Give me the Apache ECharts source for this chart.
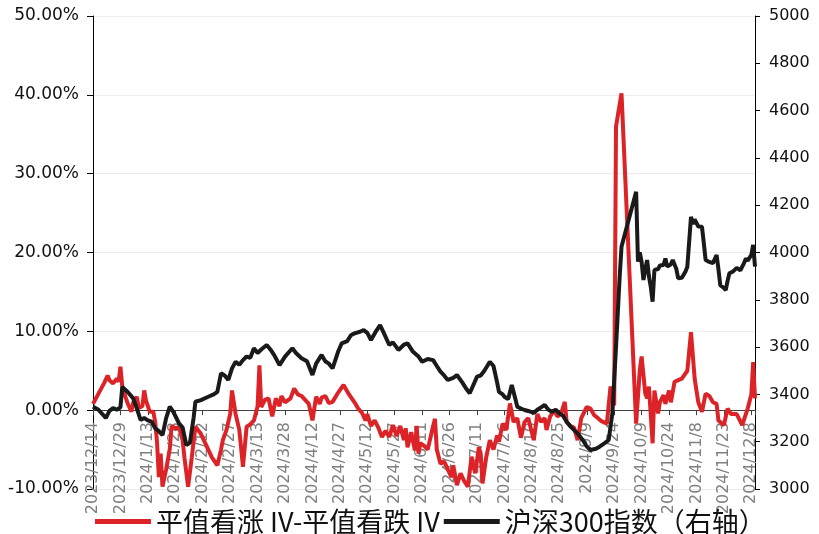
<!DOCTYPE html>
<html lang="zh">
<head>
  <meta charset="utf-8" />
  <title>平值IV差与沪深300</title>
  <script src="https://cdn.jsdelivr.net/npm/echarts@6/dist/echarts.min.js"></script>
  <style>html, body { margin: 0; padding: 0; background: #fff; }</style>
</head>
<body>
  <div id="main" style="width: 819px;height:534px;"></div>
  <script>
    // 平值看涨IV - 平值看跌IV (%)
    var ivDates = [
      '2023-12-14', '2023-12-17', '2023-12-20', '2023-12-22', '2023-12-23', '2023-12-25', '2023-12-27', '2023-12-28', '2023-12-29', '2023-12-30',
      '2024-01-01', '2024-01-02', '2024-01-04', '2024-01-05', '2024-01-07', '2024-01-08', '2024-01-10', '2024-01-11', '2024-01-12', '2024-01-14',
      '2024-01-16', '2024-01-17', '2024-01-18', '2024-01-19', '2024-01-20', '2024-01-21', '2024-01-22', '2024-01-23', '2024-01-25', '2024-01-26',
      '2024-01-28', '2024-01-30', '2024-02-01', '2024-02-02', '2024-02-04', '2024-02-05', '2024-02-06', '2024-02-08', '2024-02-11', '2024-02-14',
      '2024-02-17', '2024-02-20', '2024-02-22', '2024-02-23', '2024-02-25', '2024-02-27', '2024-02-28', '2024-03-01', '2024-03-03', '2024-03-05',
      '2024-03-07', '2024-03-09', '2024-03-11', '2024-03-13', '2024-03-14', '2024-03-15', '2024-03-17', '2024-03-19', '2024-03-21', '2024-03-23',
      '2024-03-25', '2024-03-26', '2024-03-28', '2024-03-31', '2024-04-02', '2024-04-04', '2024-04-06', '2024-04-08', '2024-04-10', '2024-04-12',
      '2024-04-14', '2024-04-16', '2024-04-17', '2024-04-19', '2024-04-21', '2024-04-23', '2024-04-26', '2024-04-29', '2024-05-02', '2024-05-05',
      '2024-05-07', '2024-05-09', '2024-05-11', '2024-05-12', '2024-05-14', '2024-05-16', '2024-05-18', '2024-05-20', '2024-05-22', '2024-05-24',
      '2024-05-26', '2024-05-28', '2024-05-30', '2024-06-01', '2024-06-02', '2024-06-03', '2024-06-05', '2024-06-07', '2024-06-08', '2024-06-09',
      '2024-06-10', '2024-06-12', '2024-06-14', '2024-06-17', '2024-06-18', '2024-06-19', '2024-06-21', '2024-06-23', '2024-06-25', '2024-06-27',
      '2024-06-28', '2024-06-30', '2024-07-02', '2024-07-04', '2024-07-06', '2024-07-08', '2024-07-10', '2024-07-12', '2024-07-13', '2024-07-14',
      '2024-07-16', '2024-07-18', '2024-07-20', '2024-07-22', '2024-07-23', '2024-07-25', '2024-07-27', '2024-07-29', '2024-07-31', '2024-08-02',
      '2024-08-04', '2024-08-06', '2024-08-08', '2024-08-11', '2024-08-13', '2024-08-15', '2024-08-17', '2024-08-18', '2024-08-20', '2024-08-22',
      '2024-08-24', '2024-08-26', '2024-08-28', '2024-08-29', '2024-08-31', '2024-09-02', '2024-09-04', '2024-09-06', '2024-09-09', '2024-09-11',
      '2024-09-13', '2024-09-15', '2024-09-17', '2024-09-20', '2024-09-22', '2024-09-24', '2024-09-25', '2024-09-28', '2024-10-06', '2024-10-08',
      '2024-10-09', '2024-10-11', '2024-10-12', '2024-10-13', '2024-10-15', '2024-10-16', '2024-10-18', '2024-10-19', '2024-10-21', '2024-10-22',
      '2024-10-24', '2024-10-25', '2024-10-27', '2024-10-29', '2024-10-31', '2024-11-01', '2024-11-03', '2024-11-05', '2024-11-07', '2024-11-09',
      '2024-11-11', '2024-11-13', '2024-11-15', '2024-11-17', '2024-11-19', '2024-11-20', '2024-11-23', '2024-11-25', '2024-11-27', '2024-11-28',
      '2024-11-30', '2024-12-03', '2024-12-05', '2024-12-06', '2024-12-08', '2024-12-09', '2024-12-10'
    ];
    var ivSpread = [
      0.8, 2.1, 3.4, 4.4, 3.8, 3.4, 4.0, 3.6, 5.5, 3.0,
      1.5, 0.85, -0.2, 1.0, 1.7, 0.3, 0.5, 2.5, 1.2, -0.2,
      -0.2, -1.5, -4.0, -8.5, -5.5, -9.7, -9.7, -7.5, -4.9, -2.0,
      -2.3, -2.2, -3.8, -6.0, -9.7, -9.7, -6.0, -2.1, -3.0, -4.5,
      -6.0, -7.0, -5.0, -3.8, -2.5, -0.5, 2.5, -0.5, -2.5, -7.2,
      -2.1, -1.8, -1.3, 0.5, 5.7, 0.4, 1.3, 1.5, -0.8, 1.5,
      0.5, 1.8, 1.0, 1.5, 2.75, 2.0, 1.8, 1.3, 0.8, -1.3,
      1.7, 0.8, 1.6, 1.8, 0.9, 1.05, 2.2, 3.2, 2.0, 1.0,
      0.2, -0.3, -1.3, -0.5, -2.0, -1.3, -2.2, -3.4, -2.6, -3.4,
      -1.9, -3.3, -2.0, -3.8, -2.3, -4.7, -2.8, -5.1, -2.0, -5.5,
      -4.2, -4.5, -5.0, -2.0, -1.1, -5.0, -6.8, -6.5, -7.5, -8.5,
      -7.0, -9.5, -8.0, -9.0, -9.7, -5.9, -8.0, -4.7, -5.5, -9.3,
      -6.0, -3.8, -5.0, -3.2, -4.0, -1.7, -2.5, 0.85, -1.5, -1.0,
      -3.5, -1.5, -1.0, -3.8, -0.5, -1.5, -1.0, -2.5, -0.8, 0.0,
      -0.8, -0.4, 1.05, -1.5, -2.0, -2.2, -3.8, -1.0, 0.4, 0.2,
      -0.6, -1.0, -1.4, -1.7, 3.0, 0.6, 36.0, 40.2, -1.7, 5.1,
      6.8, 2.1, 1.5, 3.0, -4.2, 2.5, -0.4, 1.0, 1.9, 0.8,
      2.5, 1.0, 3.6, 3.8, 4.0, 4.2, 5.0, 9.9, 4.0, 1.0,
      -0.2, 2.1, 1.8, 1.0, 0.8, -1.3, -1.9, 0.2, -0.5, -0.3,
      -0.5, -1.9, -0.5, 0.2, 2.0, 6.1, 1.5
    ];

    // 沪深300指数 (右轴)
    var hsDates = [
      '2023-12-14', '2023-12-17', '2023-12-19', '2023-12-21', '2023-12-23', '2023-12-25', '2023-12-27', '2023-12-29', '2023-12-30', '2024-01-02',
      '2024-01-05', '2024-01-07', '2024-01-09', '2024-01-11', '2024-01-13', '2024-01-15', '2024-01-17', '2024-01-19', '2024-01-21', '2024-01-23',
      '2024-01-25', '2024-01-27', '2024-01-30', '2024-02-01', '2024-02-03', '2024-02-05', '2024-02-07', '2024-02-08', '2024-02-11', '2024-02-15',
      '2024-02-18', '2024-02-20', '2024-02-22', '2024-02-24', '2024-02-26', '2024-02-28', '2024-03-01', '2024-03-03', '2024-03-05', '2024-03-07',
      '2024-03-09', '2024-03-11', '2024-03-13', '2024-03-15', '2024-03-18', '2024-03-20', '2024-03-22', '2024-03-25', '2024-03-28', '2024-04-01',
      '2024-04-03', '2024-04-06', '2024-04-09', '2024-04-12', '2024-04-14', '2024-04-17', '2024-04-19', '2024-04-21', '2024-04-23', '2024-04-26',
      '2024-04-28', '2024-05-01', '2024-05-03', '2024-05-05', '2024-05-08', '2024-05-10', '2024-05-12', '2024-05-14', '2024-05-17', '2024-05-19',
      '2024-05-21', '2024-05-24', '2024-05-26', '2024-05-29', '2024-06-01', '2024-06-03', '2024-06-06', '2024-06-09', '2024-06-11', '2024-06-14',
      '2024-06-17', '2024-06-19', '2024-06-21', '2024-06-23', '2024-06-25', '2024-06-28', '2024-06-30', '2024-07-03', '2024-07-05', '2024-07-07',
      '2024-07-09', '2024-07-11', '2024-07-13', '2024-07-15', '2024-07-18', '2024-07-20', '2024-07-22', '2024-07-23', '2024-07-25', '2024-07-26',
      '2024-07-28', '2024-07-30', '2024-08-01', '2024-08-02', '2024-08-04', '2024-08-06', '2024-08-08', '2024-08-11', '2024-08-13', '2024-08-15',
      '2024-08-17', '2024-08-19', '2024-08-21', '2024-08-23', '2024-08-25', '2024-08-27', '2024-08-29', '2024-08-31', '2024-09-02', '2024-09-04',
      '2024-09-07', '2024-09-09', '2024-09-11', '2024-09-14', '2024-09-16', '2024-09-19', '2024-09-21', '2024-09-22', '2024-09-23', '2024-09-24',
      '2024-09-25', '2024-09-27', '2024-09-28', '2024-10-06', '2024-10-07', '2024-10-08', '2024-10-09', '2024-10-10', '2024-10-11', '2024-10-12',
      '2024-10-13', '2024-10-14', '2024-10-15', '2024-10-16', '2024-10-18', '2024-10-19', '2024-10-21', '2024-10-22', '2024-10-23', '2024-10-25',
      '2024-10-26', '2024-10-28', '2024-10-29', '2024-10-31', '2024-11-02', '2024-11-03', '2024-11-04', '2024-11-05', '2024-11-06', '2024-11-07',
      '2024-11-08', '2024-11-09', '2024-11-11', '2024-11-12', '2024-11-13', '2024-11-15', '2024-11-17', '2024-11-19', '2024-11-20', '2024-11-21',
      '2024-11-23', '2024-11-24', '2024-11-25', '2024-11-26', '2024-11-28', '2024-11-30', '2024-12-02', '2024-12-03', '2024-12-04', '2024-12-05',
      '2024-12-06', '2024-12-08', '2024-12-09', '2024-12-10'
    ];
    var hs300 = [
      3348, 3335, 3318, 3300, 3330, 3342, 3335, 3345, 3432, 3410,
      3383, 3340, 3292, 3300, 3290, 3285, 3257, 3245, 3228, 3300,
      3348, 3325, 3278, 3260, 3186, 3195, 3300, 3369, 3376, 3390,
      3400, 3411, 3489, 3480, 3461, 3510, 3538, 3525, 3545, 3560,
      3555, 3595, 3575, 3590, 3609, 3590, 3567, 3524, 3560, 3595,
      3575, 3553, 3540, 3482, 3530, 3567, 3540, 3530, 3510, 3580,
      3616, 3625, 3650, 3658, 3665, 3672, 3660, 3630, 3670, 3693,
      3660, 3609, 3620, 3588, 3610, 3616, 3580, 3560, 3538, 3550,
      3545, 3520, 3496, 3480, 3461, 3470, 3482, 3450, 3425, 3405,
      3440, 3475, 3480, 3500, 3538, 3520, 3450, 3411, 3400, 3390,
      3380, 3440, 3380, 3348, 3340, 3334, 3330, 3322, 3335, 3345,
      3355, 3335, 3327, 3335, 3320, 3310, 3284, 3265, 3250, 3235,
      3205, 3180, 3165, 3170, 3179, 3195, 3207, 3214, 3320, 3461,
      3600, 3898, 4024, 4257, 3961, 4000, 3960, 3884, 3930, 3968,
      3900, 3855, 3792, 3926, 3930, 3945, 3947, 3975, 3940, 3950,
      3968, 3930, 3891, 3893, 3920, 3940, 4046, 4151, 4120, 4140,
      4137, 4110, 4109, 4040, 3968, 3960, 3955, 3989, 3930, 3862,
      3850, 3841, 3880, 3912, 3920, 3935, 3925, 3919, 3955, 3975,
      3965, 3990, 4032, 3940
    ];

    var axisStart = '2023-12-14';
    var axisEnd = '2024-12-10';
    var DAY = 86400000;

    function dayOf(s) {
      return Math.round((Date.parse(s) - Date.parse(axisStart)) / DAY);
    }
    function pairs(dates, vals) {
      return dates.map(function (d, i) { return [dayOf(d), vals[i]]; });
    }

    var chartDom = document.getElementById('main');
    var myChart = echarts.init(chartDom);
    var axisFont = 'DejaVu Sans';
    var cjkFont = '"Noto Sans CJK SC", "Noto Sans", sans-serif';

    var option = {
      animation: false,
      grid: { left: 93, right: 64, top: 16, bottom: 45, containLabel: false, outerBoundsMode: 'none' },
      legend: {
        left: 90,
        top: 503,
        icon: 'rect',
        itemWidth: 56,
        itemHeight: 5,
        itemGap: 4,
        textStyle: { fontFamily: cjkFont, fontSize: 27, color: '#111' },
        data: ['平值看涨 IV-平值看跌 IV', '沪深300指数（右轴）']
      },
      xAxis: {
        type: 'value',
        min: 0,
        max: dayOf(axisEnd),
        interval: 15,
        // the line and ticks sit on 0%, the labels hang from just under it
        axisLine: { onZero: true, onZeroAxisIndex: 0, lineStyle: { color: '#404040', width: 1 } },
        axisTick: { show: true, length: 5, lineStyle: { color: '#404040' } },
        axisLabel: {
          rotate: 90,
          margin: -67,
          color: '#808080',
          fontSize: 16,
          fontFamily: axisFont,
          formatter: function (v) {
            if (v % 15 !== 0) return '';
            var d = new Date(Date.parse(axisStart) + v * DAY);
            return d.getUTCFullYear() + '/' + (d.getUTCMonth() + 1) + '/' + d.getUTCDate();
          }
        },
        splitLine: { show: false }
      },
      yAxis: [
        {
          type: 'value',
          min: -10,
          max: 50,
          interval: 10,
          axisLine: { show: true, onZero: false, lineStyle: { color: '#000', width: 1 } },
          axisTick: { show: true, length: 6, lineStyle: { color: '#000' } },
          axisLabel: {
            margin: 14,
            color: '#111',
            fontSize: 17,
            fontFamily: axisFont,
            formatter: function (v) { return v.toFixed(2) + '%'; }
          },
          splitLine: { show: true, lineStyle: { color: '#ececec', width: 1 } }
        },
        {
          type: 'value',
          position: 'right',
          min: 3000,
          max: 5000,
          interval: 200,
          axisLine: { show: true, onZero: false, lineStyle: { color: '#000', width: 1 } },
          axisTick: { show: true, length: 5, lineStyle: { color: '#000' } },
          axisLabel: {
            margin: 14,
            color: '#111',
            fontSize: 16,
            fontFamily: axisFont,
            formatter: function (v) { return String(v); }
          },
          splitLine: { show: false }
        }
      ],
      series: [
        {
          name: '平值看涨 IV-平值看跌 IV',
          type: 'line',
          yAxisIndex: 0,
          symbol: 'none',
          data: pairs(ivDates, ivSpread),
          lineStyle: { color: '#dc2328', width: 4 },
          itemStyle: { color: '#dc2328' }
        },
        {
          name: '沪深300指数（右轴）',
          type: 'line',
          yAxisIndex: 1,
          symbol: 'none',
          data: pairs(hsDates, hs300),
          lineStyle: { color: '#1a1a1a', width: 4 },
          itemStyle: { color: '#1a1a1a' }
        }
      ]
    };

    myChart.setOption(option);
  </script>
</body>
</html>
